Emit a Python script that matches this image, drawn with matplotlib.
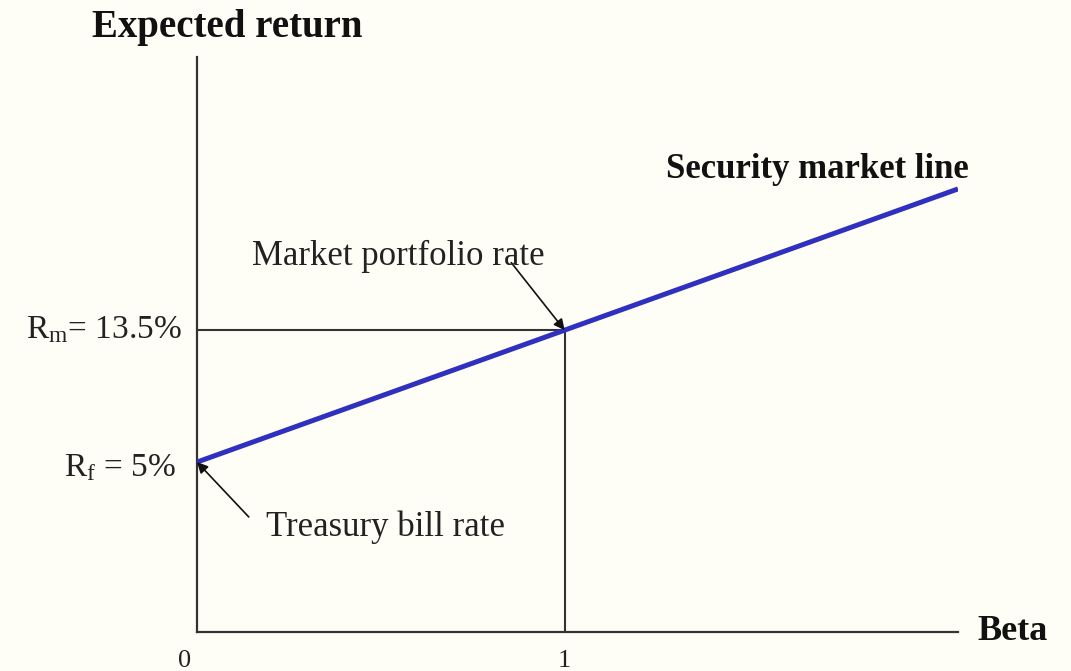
import matplotlib.pyplot as plt

plt.rcParams["font.family"] = ["Liberation Serif", "DejaVu Serif"]
plt.rcParams["mathtext.fontset"] = "custom"
plt.rcParams["mathtext.rm"] = "Liberation Serif"
plt.rcParams["mathtext.it"] = "Liberation Serif:italic"

# Security market line data
sml_beta = [0.0, 1.0, 2.07]
sml_return = [5.0, 13.5, 22.6]
rf = 5.0
rm = 13.5
beta_ticks = [0, 1]
beta_tick_labels = ["0", "1"]

BG = "#fffef6"
fig = plt.figure(figsize=(10.71, 6.71), dpi=100, facecolor=BG)
ax = fig.add_axes([197 / 1071, 39 / 671, 761 / 1071, 575 / 671])
ax.set_facecolor(BG)
ax.set_xlim(0, 2.07)
ax.set_ylim(-5.95, 31.1)

for side in ["top", "right"]:
    ax.spines[side].set_visible(False)
for side in ["left", "bottom"]:
    ax.spines[side].set_color("#333333")
    ax.spines[side].set_linewidth(1.6)
ax.set_xticks([])
ax.set_yticks([])

# guide lines to the market portfolio
ax.plot([0, 1], [rm, rm], color="#333333", lw=1.5, solid_capstyle="butt")
ax.plot([1, 1], [-5.95, rm], color="#333333", lw=1.5, solid_capstyle="butt")

# the SML itself
ax.plot(sml_beta, sml_return, color="#3030c0", lw=3.6, solid_capstyle="butt", zorder=3)

# axis texts
for b, lab in zip(beta_ticks, beta_tick_labels):
    ax.annotate(lab, xy=(b, -5.95), xytext=(-9 if b == 0 else 0, -21),
                textcoords="offset points", ha="center", va="center", fontsize=19,
                color="#222222")
fig.text(227 / 1071, 1 - 27 / 671, "Expected return", ha="center", va="center",
         fontsize=28, fontweight="bold", color="#111111")
fig.text(1013 / 1071, 1 - 632 / 671, "Beta", ha="center", va="center",
         fontsize=26, fontweight="bold", color="#111111")
ax.annotate("Security market line", xy=(2.07, 22.6), xytext=(817 / 1071, 1 - 170 / 671),
            textcoords="figure fraction", ha="center", va="center",
            fontsize=25, fontweight="bold", color="#111111")

ax.annotate(r"R$_\mathrm{m}$= 13.5%", xy=(0, rm), xytext=(-11, 0),
            textcoords="offset points", ha="right", va="center", fontsize=24,
            color="#222222")
ax.annotate(r"R$_\mathrm{f}$ = 5%", xy=(0, rf), xytext=(-15, -4),
            textcoords="offset points", ha="right", va="center", fontsize=24,
            color="#222222")

# callouts with arrows (the market one starts inside the word "rate")
ax.annotate("Market portfolio rate", xy=(1, rm), xytext=(398 / 1071, 1 - 256 / 671),
            textcoords="figure fraction", ha="center", va="center", fontsize=25,
            color="#222222",
            arrowprops=dict(arrowstyle="-|>", color="#111111", lw=1.2,
                            mutation_scale=16, shrinkA=0, shrinkB=0,
                            patchA=None, relpos=(0.887, 0.3)))
ax.annotate("Treasury bill rate", xy=(0, rf), xytext=(385 / 1071, 1 - 527 / 671),
            textcoords="figure fraction", ha="center", va="center", fontsize=25,
            color="#222222",
            arrowprops=dict(arrowstyle="-|>", color="#111111", lw=1.2,
                            mutation_scale=16, shrinkA=0, shrinkB=0,
                            relpos=(-0.07, 0.8)))

fig.savefig("out.png", dpi=100, facecolor=BG)
